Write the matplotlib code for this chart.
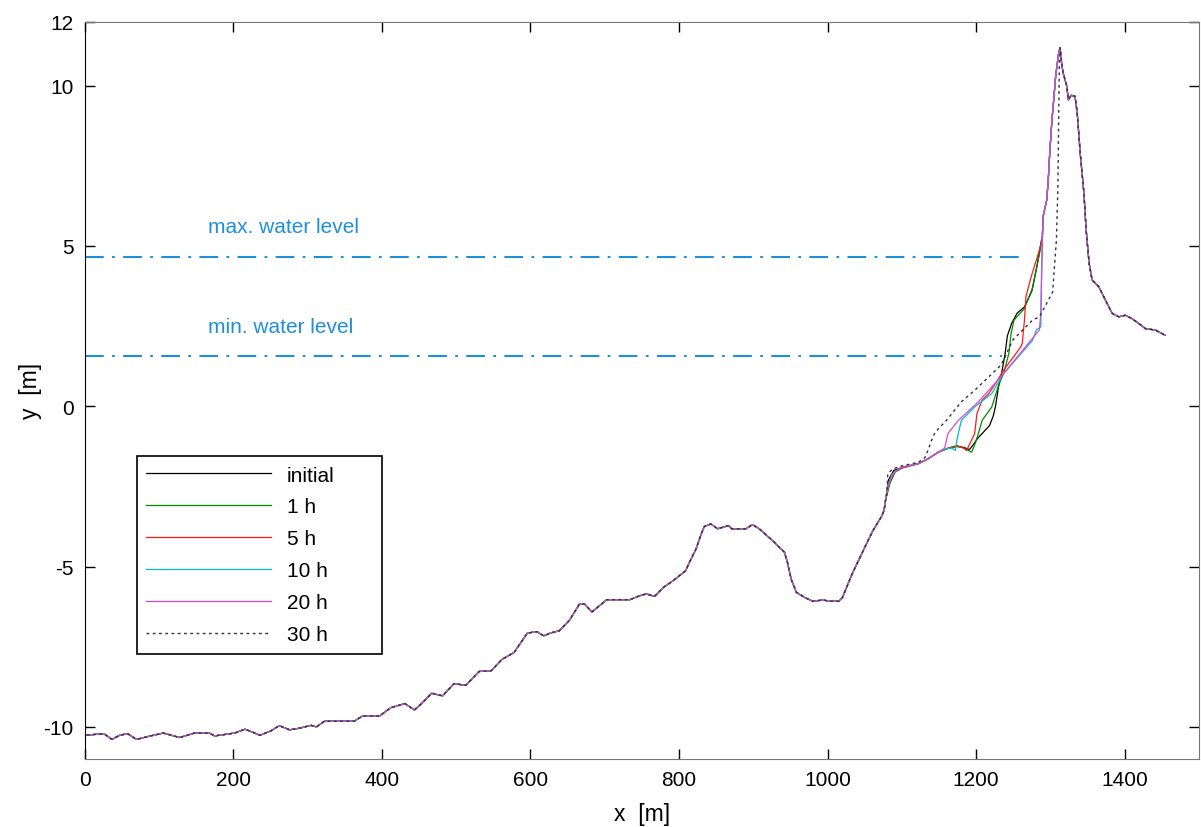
import matplotlib
matplotlib.use("Agg")
import matplotlib.pyplot as plt

plt.rcParams['font.family'] = ['Liberation Sans', 'DejaVu Sans']
plt.rcParams['axes.unicode_minus'] = False

# shared offshore profile (all runs identical here)
x_off = [0, 0, 26, 37, 47, 58, 70, 85, 106, 128, 148, 168, 175, 202, 216, 227, 236, 251,
         262, 276, 289, 305, 312, 323, 363, 374, 397, 412, 431, 444, 455, 467, 482, 497,
         513, 531, 547, 562, 578, 596, 609, 618, 627, 639, 653, 666, 673, 683, 693, 703,
         734, 747, 756, 767, 779, 792, 809, 814, 823, 830, 834, 843, 852, 867, 871, 890,
         899, 908, 926, 942, 946, 951, 958, 969, 980, 994, 1003, 1015, 1020, 1033, 1049,
         1061, 1072, 1076, 1078]
y_off = [0, -10.26, -10.21, -10.39, -10.26, -10.21, -10.39, -10.30, -10.19, -10.33, -10.19,
         -10.19, -10.28, -10.19, -10.07, -10.17, -10.26, -10.12, -9.96, -10.09, -10.04,
         -9.95, -10.00, -9.82, -9.82, -9.66, -9.66, -9.40, -9.27, -9.47, -9.24, -8.95,
         -9.03, -8.65, -8.70, -8.27, -8.25, -7.89, -7.68, -7.07, -7.03, -7.16, -7.07,
         -7.00, -6.66, -6.17, -6.17, -6.41, -6.22, -6.03, -6.03, -5.91, -5.85, -5.93,
         -5.65, -5.44, -5.13, -4.87, -4.45, -3.98, -3.75, -3.67, -3.82, -3.72, -3.82,
         -3.82, -3.69, -3.82, -4.19, -4.55, -4.87, -5.39, -5.80, -5.96, -6.08, -6.04,
         -6.08, -6.08, -5.96, -5.23, -4.45, -3.88, -3.46, -3.25, -2.94]

# dune front face (all runs except 30 h) and crest / back side (all runs)
x_face = [1289, 1290, 1295, 1297, 1299, 1302, 1304, 1307, 1311]
y_face = [5.20, 5.91, 6.44, 7.06, 7.90, 8.94, 9.46, 10.30, 11.02]
x_top = [1313, 1315, 1317, 1322, 1324, 1328, 1333, 1336, 1340, 1345, 1348, 1352, 1356,
         1365, 1374, 1383, 1392, 1401, 1410, 1419, 1428, 1441, 1454]
y_top = [11.18, 10.70, 10.40, 9.98, 9.56, 9.70, 9.67, 9.15, 7.90, 6.65, 5.50, 4.46, 3.94,
         3.73, 3.31, 2.90, 2.79, 2.84, 2.73, 2.58, 2.42, 2.38, 2.22]

# eroding part of each run
x_init = [1082, 1089, 1101, 1122, 1135, 1149, 1163, 1174, 1183, 1191, 1196, 1202, 1210,
          1218, 1223, 1226, 1230, 1234, 1239, 1242, 1248, 1255, 1265, 1275, 1282, 1288]
y_init = [-2.30, -2.00, -1.90, -1.79, -1.64, -1.43, -1.30, -1.25, -1.28, -1.35, -1.20,
          -1.00, -0.80, -0.60, -0.30, 0.00, 0.60, 1.00, 1.65, 2.20, 2.60, 2.90, 3.10,
          3.60, 4.40, 5.20]
x_1h = [1084, 1091, 1101, 1122, 1135, 1149, 1163, 1174, 1183, 1194, 1198, 1203, 1208,
        1221, 1231, 1237, 1244, 1247, 1251, 1265, 1276, 1283, 1289]
y_1h = [-2.40, -2.05, -1.92, -1.79, -1.64, -1.43, -1.30, -1.25, -1.30, -1.43, -1.20,
        -0.85, -0.44, -0.02, 0.71, 1.02, 1.65, 2.27, 2.69, 3.05, 3.70, 4.50, 5.20]
x_5h = [1083, 1090, 1101, 1122, 1135, 1149, 1163, 1174, 1183, 1187, 1198, 1201, 1208,
        1217, 1226, 1237, 1260, 1262, 1265, 1267, 1274, 1281, 1285, 1289]
y_5h = [-2.35, -2.05, -1.92, -1.79, -1.64, -1.43, -1.30, -1.22, -1.30, -1.38, -0.85,
        -0.23, 0.19, 0.40, 0.71, 1.13, 1.85, 1.96, 2.69, 3.42, 4.04, 4.56, 4.87, 5.20]
x_10h = [1082, 1088, 1100, 1122, 1135, 1149, 1160, 1167, 1172, 1174, 1180, 1198, 1221,
         1237, 1276, 1281, 1287, 1288, 1289]
y_10h = [-2.40, -2.10, -1.90, -1.79, -1.64, -1.43, -1.32, -1.30, -1.38, -1.06, -0.44,
         -0.02, 0.40, 1.02, 2.06, 2.38, 2.48, 4.25, 5.20]
x_20h = [1081, 1087, 1099, 1122, 1135, 1149, 1156, 1158, 1162, 1176, 1203, 1237, 1285,
         1287, 1289]
y_20h = [-2.50, -2.10, -1.90, -1.79, -1.64, -1.43, -1.33, -1.27, -0.85, -0.44, 0.14,
         1.02, 2.38, 2.90, 4.90]
x_30h = [1080, 1081, 1088, 1101, 1122, 1131, 1135, 1140, 1144, 1149, 1160, 1180, 1198,
         1217, 1231, 1237, 1249, 1276, 1285, 1296, 1303, 1305, 1308, 1310, 1311, 1312]
y_30h = [-2.70, -2.10, -1.95, -1.85, -1.75, -1.60, -1.38, -1.06, -0.85, -0.70, -0.44,
         0.14, 0.50, 0.92, 1.23, 1.44, 2.06, 2.69, 2.79, 3.26, 3.57, 4.25, 5.19, 6.85,
         8.94, 10.70]

labels = ['initial', '1 h', '5 h', '10 h', '20 h', '30 h']
colors = ['black', '#008c00', '#ff1a1a', '#00c0c0', '#d848d8', '#333333']

max_level = 4.66
min_level = 1.56
max_end = 1268
min_end = 1235

fig = plt.figure(figsize=(12.01, 8.28), dpi=100)
ax = fig.add_axes([0.0704, 0.0821, 0.928, 0.8907])

mids = [(x_init, y_init), (x_1h, y_1h), (x_5h, y_5h), (x_10h, y_10h), (x_20h, y_20h)]
for (xm, ym), lab, c in zip(mids, labels[:5], colors[:5]):
    ax.plot(x_off + xm + x_face + x_top, y_off + ym + y_face + y_top,
            color=c, lw=0.9, label=lab)
ax.plot(x_off + x_30h + x_top, y_off + y_30h + y_top, color=colors[5], lw=1.0,
        ls=(0, (2, 2.5)), label=labels[5])

wl_col = '#1f8fdc'
ax.plot([0, max_end], [max_level, max_level], color=wl_col, lw=1.5,
        dashes=[9, 4, 1.3, 4])
ax.plot([0, min_end], [min_level, min_level], color=wl_col, lw=1.5,
        dashes=[9, 4, 1.3, 4])
ax.text(166, 5.6, 'max. water level', color=wl_col, fontsize=15, va='center')
ax.text(166, 2.5, 'min. water level', color=wl_col, fontsize=15, va='center')

ax.set_xlim(0, 1500)
ax.set_ylim(-11, 12)
ax.set_xticks(range(0, 1401, 200))
ax.set_yticks([-10, -5, 0, 5, 10, 12])
ax.tick_params(direction='in', length=7, width=1, top=True, right=True,
               labelsize=15, pad=8)
for side in ['bottom', 'top', 'right']:
    ax.spines[side].set_color('#777777')
ax.spines['left'].set_color('black')
ax.set_xlabel('x  [m]', fontsize=16.5, labelpad=9)
ax.set_ylabel('y  [m]', fontsize=16.5, labelpad=1)

leg = ax.legend(loc='upper left', bbox_to_anchor=(0.0471, 0.4106, 0.2198, 0),
                mode='expand', borderaxespad=0, fontsize=15, handlelength=6.0,
                handletextpad=0.75, labelspacing=0.62, borderpad=0.45, fancybox=False,
                framealpha=1)
leg.get_frame().set_edgecolor('black')
leg.get_frame().set_linewidth(1.2)

fig.savefig('out.png', dpi=100)
